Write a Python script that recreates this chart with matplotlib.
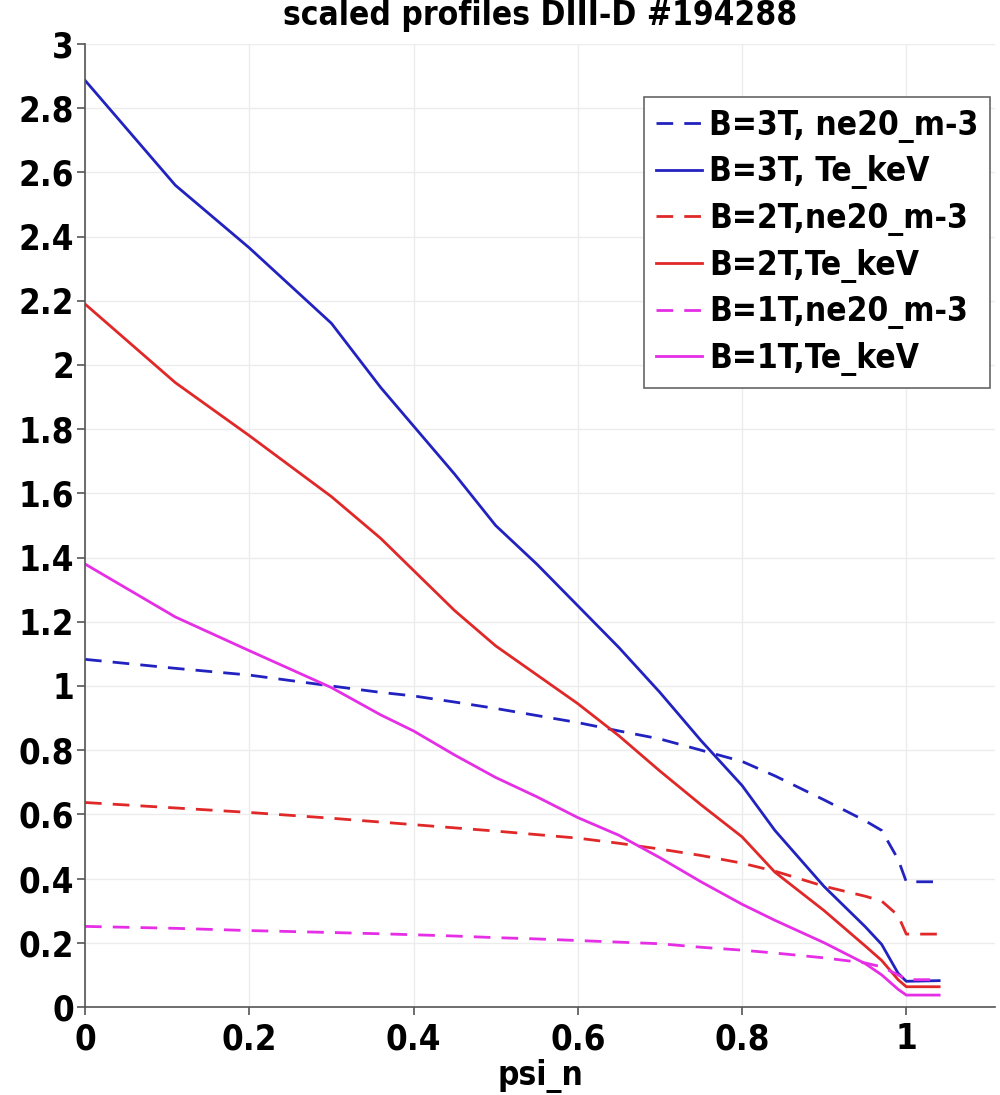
import numpy as np
import matplotlib
matplotlib.use("Agg")
import matplotlib.pyplot as plt
from matplotlib.ticker import FuncFormatter

# normalised flux coordinate (shared grid for all profiles)
psi = [0, 0.11, 0.2, 0.3, 0.36, 0.4, 0.45, 0.5, 0.55, 0.6, 0.65, 0.7,
       0.75, 0.8, 0.84, 0.9, 0.95, 0.97, 0.99, 1.0, 1.04]

# B=3T
ne_3T = [1.083, 1.055, 1.034, 1.0, 0.98, 0.969, 0.95, 0.93, 0.908, 0.886, 0.86, 0.835,
         0.80, 0.765, 0.72, 0.645, 0.58, 0.55, 0.46, 0.39, 0.39]
te_3T = [2.887, 2.56, 2.365, 2.13, 1.93, 1.81, 1.66, 1.50, 1.38, 1.25, 1.12, 0.98,
         0.83, 0.69, 0.55, 0.375, 0.25, 0.195, 0.105, 0.08, 0.082]
# B=2T
ne_2T = [0.637, 0.62, 0.606, 0.588, 0.576, 0.568, 0.558, 0.548, 0.537, 0.526, 0.51, 0.492,
         0.472, 0.448, 0.423, 0.376, 0.345, 0.33, 0.285, 0.227, 0.227]
te_2T = [2.19, 1.945, 1.78, 1.59, 1.46, 1.36, 1.235, 1.125, 1.035, 0.945, 0.845, 0.735,
         0.63, 0.53, 0.42, 0.30, 0.19, 0.145, 0.085, 0.063, 0.063]
# B=1T
ne_1T = [0.251, 0.245, 0.238, 0.232, 0.228, 0.225, 0.221, 0.216, 0.212, 0.207, 0.202, 0.197,
         0.186, 0.177, 0.168, 0.153, 0.137, 0.125, 0.10, 0.085, 0.085]
te_1T = [1.38, 1.215, 1.11, 0.995, 0.91, 0.86, 0.785, 0.715, 0.655, 0.59, 0.535, 0.465,
         0.39, 0.32, 0.27, 0.20, 0.135, 0.10, 0.055, 0.037, 0.037]

labels = ["B=3T, ne20_m-3", "B=3T, Te_keV", "B=2T,ne20_m-3",
          "B=2T,Te_keV", "B=1T,ne20_m-3", "B=1T,Te_keV"]

blue = "#2222c0"
red = "#e02828"
mag = "#e52ee5"

plt.rcParams["font.family"] = "DejaVu Sans"
plt.rcParams["font.weight"] = "bold"
plt.rcParams["font.stretch"] = "condensed"

fig = plt.figure(figsize=(10, 10.95), dpi=100)
ax = fig.add_axes([0.085, 0.0804, 0.91, 0.8794])

lw = 2.0
ax.plot(psi, ne_3T, color=blue, lw=lw, dashes=(6, 4), label=labels[0])
ax.plot(psi, te_3T, color=blue, lw=lw, label=labels[1])
ax.plot(psi, ne_2T, color=red, lw=lw, dashes=(6, 4), label=labels[2])
ax.plot(psi, te_2T, color=red, lw=lw, label=labels[3])
ax.plot(psi, ne_1T, color=mag, lw=lw, dashes=(6, 4), label=labels[4])
ax.plot(psi, te_1T, color=mag, lw=lw, label=labels[5])

ax.set_xlim(0, 1.108)
ax.set_ylim(0, 3)
ax.set_xticks(np.arange(0, 1.01, 0.2))
ax.set_yticks(np.arange(0, 3.01, 0.2))
fmt = FuncFormatter(lambda v, p: "%g" % round(v, 2))
ax.xaxis.set_major_formatter(fmt)
ax.yaxis.set_major_formatter(fmt)

ax.grid(True, color="#ececec", lw=1)
ax.set_axisbelow(True)
for s in ["top", "right"]:
    ax.spines[s].set_visible(False)
for s in ["left", "bottom"]:
    ax.spines[s].set_color("#555555")
    ax.spines[s].set_linewidth(1.2)
ax.tick_params(direction="out", length=6, width=1.2, color="#555555",
               labelsize=25, pad=2)
ax.tick_params(axis="x", pad=5)

ax.set_title("scaled profiles DIII-D #194288", fontsize=24, fontweight="bold", pad=14)
ax.set_xlabel("psi_n", fontsize=24, fontweight="bold", labelpad=2)

leg = ax.legend(loc="upper right", bbox_to_anchor=(0.99, 1 - 97 / 1095),
                bbox_transform=fig.transFigure, borderaxespad=0,
                fontsize=24, handlelength=1.4, handletextpad=0.2,
                labelspacing=0.38, borderpad=0.35, fancybox=False,
                framealpha=1)
leg.get_frame().set_edgecolor("#666666")
leg.get_frame().set_linewidth(1.2)

fig.savefig("out.png", dpi=100)
